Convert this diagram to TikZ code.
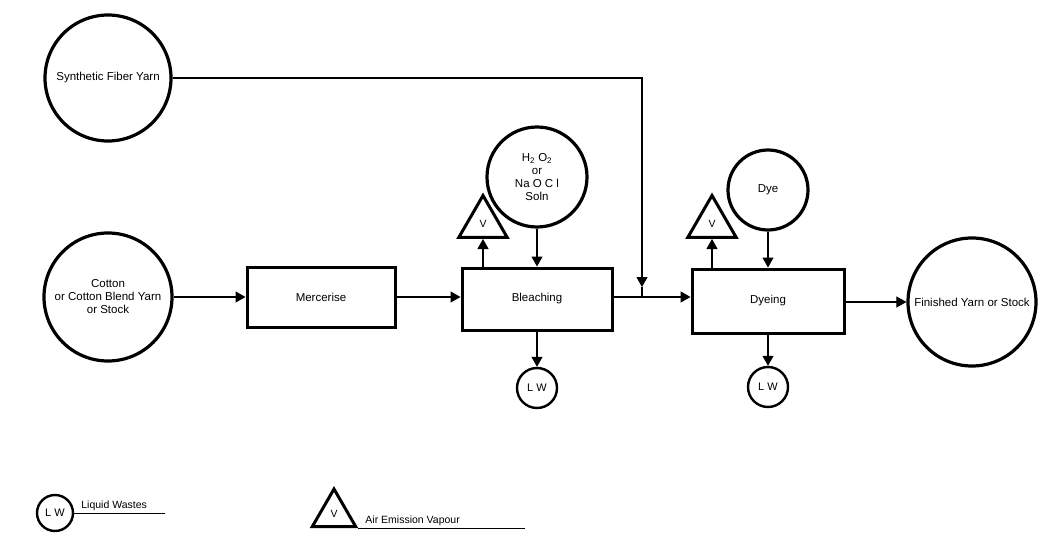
\documentclass[tikz,border=0pt]{standalone}
\usepackage{fontspec}
\setmainfont{Liberation Sans}
\usetikzlibrary{arrows.meta, positioning, shapes.geometric, calc}
\tikzset{%
	src/.style={draw, circle, line width=3.2pt, inner sep=0mm, align=center, font=\fontsize{11.5}{13}\selectfont},
	proc/.style={draw, rectangle, line width=3pt, minimum width=148pt, minimum height=60pt, font=\fontsize{11.5}{13}\selectfont},
	vent/.style={draw, regular polygon, regular polygon sides=3, line width=3pt,%
		minimum size=56pt, inner sep=0mm, font=\fontsize{10.5}{12}\selectfont},
	waste/.style={draw, circle, line width=2.4pt, minimum size=40pt, inner sep=0mm, font=\fontsize{11}{12}\selectfont},
	flow/.style={line width=1.1pt, -{Triangle[length=10pt,width=11pt]}},
	conn/.style={line width=1.1pt},
	keytext/.style={font=\fontsize{10.5}{12}\selectfont, inner sep=1pt, anchor=south west}
}
\begin{document}
\begin{tikzpicture}[x=1pt, y=-1pt]
	\useasboundingbox (0,0) rectangle (1057,548);

	\node [src, minimum size=126pt] (syn) at (108,78) {Synthetic Fiber Yarn};
	\node [src, minimum size=128pt] (cot) at (108,297) {Cotton\\or Cotton Blend Yarn\\or Stock};
	\node [proc] (merc) at (321,297) {Mercerise};
	\node [proc, minimum width=150pt, minimum height=62pt] (bleach) at (537,299) {Bleaching};
	\node [proc, minimum width=152pt, minimum height=64pt] (dye) at (768,301) {Dyeing};
	\node [src, minimum size=128pt] (fin) at (972,302) {Finished Yarn or Stock};
	\node [src, minimum size=100pt] (chem) at (537,177) {H\textsubscript{2} O\textsubscript{2}\\or\\Na O C l\\Soln};
	\node [src, minimum size=80pt] (dyein) at (768,190) {Dye};
	\node [vent, anchor=south] (vb) at (483,239) {V};
	\node [vent, anchor=south] (vd) at (712,239) {V};
	\node [waste] (lwb) at (537,388) {L W};
	\node [waste] (lwd) at (768,387) {L W};
	\coordinate (join) at (642,297);

	%main line
	\draw [flow] (cot.east) to (merc.west);
	\draw [flow] (merc) to (bleach.west|-merc);
	\draw [flow] (bleach.east|-join) to (dye.west|-join);
	\draw [flow] (dye.east|-fin) to (fin);
	\draw [flow] (syn.east) -| ([yshift=10pt]join);
	\draw [conn] ([yshift=10pt]join) to (join);

	%inputs and outputs
	\draw [flow] (chem) to (bleach.north-|chem);
	\draw [flow] (dyein) to (dye.north-|dyein);
	\draw [flow] (bleach.north-|vb) to (vb.south);
	\draw [flow] (dye.north-|vd) to (vd.south);
	\draw [flow] (bleach.south-|lwb) to (lwb);
	\draw [flow] (dye.south-|lwd) to (lwd);

	%key
	\node [waste, minimum size=36pt] (lwkey) at (55,513) {L W};
	\coordinate (lwend) at (165,513);
	\draw [conn, line width=0.8pt] (lwkey.east) to (lwend);
	\node [keytext, above right=1pt and 6pt of lwkey.east] (lwtext) {Liquid Wastes};
	\node [vent, minimum size=50pt, anchor=south] (vkey) at (334,528) {V};
	\coordinate (vend) at (525,522);
	\draw [conn, line width=0.8pt] (vkey.corner 3) to (vend|-vkey.corner 3);
	\node [keytext, above right=1pt and 6pt of vkey.corner 3] (vtext) {Air Emission Vapour};
\end{tikzpicture}
\end{document}
